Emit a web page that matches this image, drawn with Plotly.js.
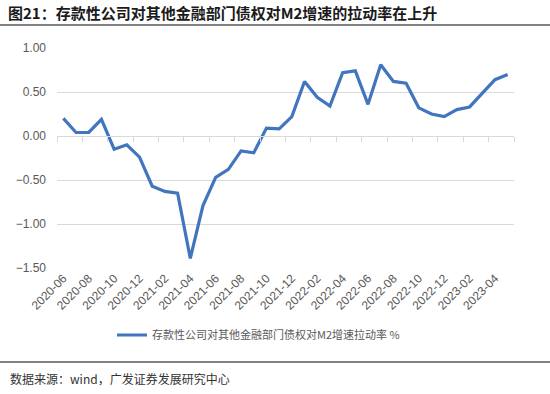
<!DOCTYPE html>
<html>
<head>
<meta charset="utf-8">
<script src="https://cdn.plot.ly/plotly-3.0.1.min.js"></script>
<style>html,body{margin:0;padding:0;background:#fff;}#chart{width:550px;height:394px;}</style>
</head>
<body>
<div id="chart"></div>
<script>
const months = ["2020-06","2020-07","2020-08","2020-09","2020-10","2020-11","2020-12",
  "2021-01","2021-02","2021-03","2021-04","2021-05","2021-06","2021-07","2021-08","2021-09","2021-10","2021-11","2021-12",
  "2022-01","2022-02","2022-03","2022-04","2022-05","2022-06","2022-07","2022-08","2022-09","2022-10","2022-11","2022-12",
  "2023-01","2023-02","2023-03","2023-04","2023-05"];
const pullRate = [0.20,0.04,0.04,0.19,-0.15,-0.10,-0.24,
  -0.57,-0.63,-0.65,-1.39,-0.79,-0.47,-0.38,-0.17,-0.19,0.09,0.08,0.22,
  0.62,0.44,0.34,0.72,0.74,0.36,0.81,0.62,0.60,0.32,0.25,0.22,
  0.30,0.33,0.49,0.64,0.70];
const tickLabels = months.filter((m, i) => i % 2 === 0);
const seriesName = "存款性公司对其他金融部门债权对M2增速拉动率 %";
const titleText = "图21：存款性公司对其他金融部门债权对M2增速的拉动率在上升";
const sourceText = "数据来源：wind，广发证券发展研究中心";

const idx = months.map((m, i) => i);
const boundaries = [];
for (let i = 0; i <= months.length; i += 2) boundaries.push(i - 0.5);

const cjk = '"Liberation Sans", Arial, "Noto Sans CJK SC", sans-serif';

const traces = [
  {
    x: months, y: pullRate, type: 'scatter', mode: 'lines', name: seriesName,
    line: {color: '#4175BD', width: 3.2}, xaxis: 'x', yaxis: 'y', hoverinfo: 'x+y'
  },
  {
    x: idx, y: pullRate, type: 'scatter', mode: 'lines', showlegend: false,
    line: {color: 'rgba(0,0,0,0)', width: 0}, xaxis: 'x2', yaxis: 'y', hoverinfo: 'skip'
  }
];

const layout = {
  width: 550, height: 394,
  paper_bgcolor: '#fff', plot_bgcolor: '#fff',
  margin: {l: 57, r: 36, t: 48, b: 126},
  font: {family: cjk, color: '#595959', size: 12},
  title: {
    text: '<b>' + titleText + '</b>',
    font: {family: '"Noto Sans CJK SC", "Liberation Sans", sans-serif', size: 15, color: '#1a1a1a'},
    xref: 'container', yref: 'container', x: 8/550, xanchor: 'left', y: 1 - 14/394, yanchor: 'middle'
  },
  xaxis: {
    type: 'category', categoryorder: 'array', categoryarray: months,
    range: [-0.5, months.length - 0.5],
    tickmode: 'array', tickvals: tickLabels, ticktext: tickLabels,
    tickangle: -45, showgrid: false, showline: false, ticks: '', zeroline: false,
    tickfont: {size: 12, color: '#595959', family: cjk}
  },
  xaxis2: {
    overlaying: 'x', anchor: 'free', position: 0.6, type: 'linear',
    range: [-0.5, months.length - 0.5],
    tickmode: 'array', tickvals: boundaries, showticklabels: false,
    ticks: 'outside', ticklen: 5, tickcolor: '#d9d9d9', tickwidth: 1,
    showline: true, linecolor: '#d9d9d9', linewidth: 1.3, showgrid: false, zeroline: false
  },
  yaxis: {
    range: [-1.5, 1.0], dtick: 0.5, tick0: 0, tickformat: '.2f',
    gridcolor: '#d9d9d9', gridwidth: 1, zeroline: false, showline: false, ticks: '',
    ticklabelstandoff: 10,
    tickfont: {size: 12, color: '#595959', family: cjk}
  },
  showlegend: true,
  legend: {
    orientation: 'h', xref: 'container', yref: 'container',
    x: 112/550, xanchor: 'left', y: 1 - 335/394, yanchor: 'middle',
    font: {size: 11, color: '#595959', family: '"Noto Sans CJK SC", "Liberation Sans", sans-serif'},
    bgcolor: 'rgba(0,0,0,0)'
  },
  shapes: [
    {type: 'line', xref: 'paper', yref: 'paper', x0: -57/457, x1: 493/457, y0: 1 + (48-25)/220, y1: 1 + (48-25)/220,
     line: {color: '#595959', width: 1.3}},
    {type: 'line', xref: 'paper', yref: 'paper', x0: -57/457, x1: 493/457, y0: (268-362)/220, y1: (268-362)/220,
     line: {color: '#595959', width: 1.3}}
  ],
  annotations: [
    {text: sourceText, xref: 'paper', yref: 'paper', x: -49/457, y: (268-378)/220,
     xanchor: 'left', yanchor: 'middle', showarrow: false,
     font: {size: 12, color: '#333', family: '"Noto Sans CJK SC", "Liberation Sans", sans-serif'}}
  ]
};

Plotly.newPlot('chart', traces, layout, {displayModeBar: false, staticPlot: true});
</script>
</body>
</html>
